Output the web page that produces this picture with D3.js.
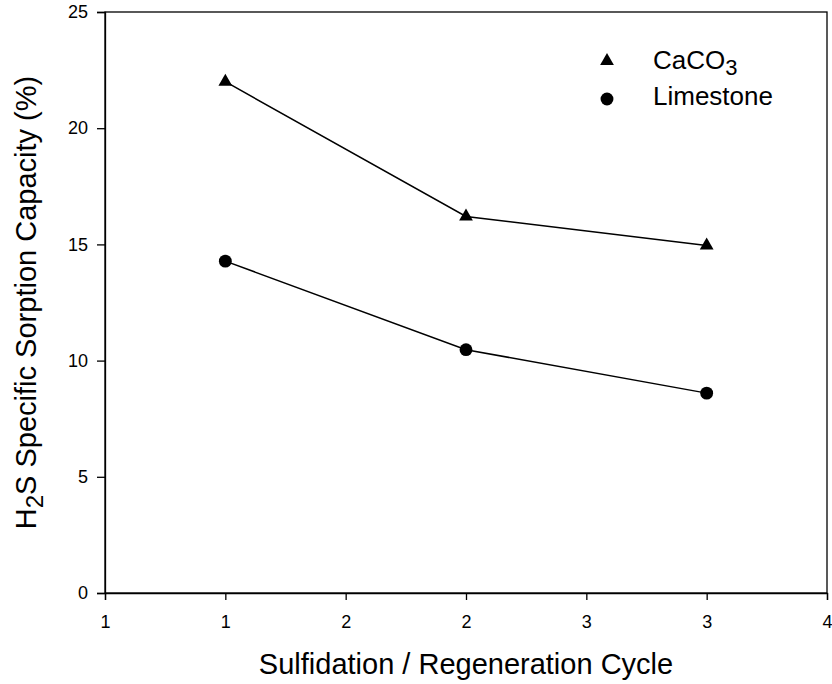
<!DOCTYPE html>
<html>
<head>
<meta charset="utf-8">
<script src="https://cdn.jsdelivr.net/npm/d3@7"></script>
<style>
  body { margin: 0; background: #fff; }
  svg { display: block; font-family: "Liberation Sans", Arial, sans-serif; }
</style>
</head>
<body>
<div id="chart"></div>
<script>
// cycle numbers and measured capacities (%)
const cycles = [1, 2, 3];
const caco3 = [22.0, 16.2, 14.95];
const limestone = [14.28, 10.47, 8.6];

// x ticks sit every half cycle, labels rounded like the original plot
const xTicks = [0.5, 1, 1.5, 2, 2.5, 3, 3.5];
const xTickLabels = ["1", "1", "2", "2", "3", "3", "4"];
const yTicks = [0, 5, 10, 15, 20, 25];

const width = 832, height = 684;
const margin = {top: 12, right: 5, bottom: 91, left: 105};

const svg = d3.select("#chart").append("svg")
    .attr("width", width)
    .attr("height", height);

const x = d3.scaleLinear().domain([0.5, 3.5]).range([margin.left, width - margin.right]);
const y = d3.scaleLinear().domain([0, 25]).range([height - margin.bottom, margin.top]);

// frame
svg.append("rect")
    .attr("x", x(0.5)).attr("y", y(25))
    .attr("width", x(3.5) - x(0.5)).attr("height", y(0) - y(25))
    .attr("fill", "none").attr("stroke", "#000").attr("stroke-width", 1.3);

// axes
const xAxis = svg.append("g")
    .attr("transform", `translate(0,${y(0)})`)
    .call(d3.axisBottom(x).tickValues(xTicks)
        .tickFormat((d, i) => xTickLabels[i])
        .tickSize(7).tickPadding(15));

const yAxis = svg.append("g")
    .attr("transform", `translate(${x(0.5)},0)`)
    .call(d3.axisLeft(y).tickValues(yTicks).tickSize(8).tickPadding(9));

[xAxis, yAxis].forEach(g => {
    g.select(".domain").attr("stroke-width", 1.3);
    g.selectAll(".tick line").attr("stroke-width", 1.3);
    g.selectAll(".tick text")
        .attr("font-family", "Liberation Sans, Arial, sans-serif")
        .attr("font-size", 18)
        .attr("fill", "#000");
});

// series
const line = d3.line().x(d => x(d[0])).y(d => y(d[1]));
const series = [
    {name: "CaCO3", values: caco3, shape: d3.symbolTriangle, size: 82},
    {name: "Limestone", values: limestone, shape: d3.symbolCircle, size: 130}
];

series.forEach(s => {
    const pts = cycles.map((c, i) => [c, s.values[i]]);
    svg.append("path")
        .datum(pts)
        .attr("d", line)
        .attr("fill", "none")
        .attr("stroke", "#000")
        .attr("stroke-width", 1.5);
    svg.append("g").selectAll("path")
        .data(pts)
        .join("path")
        .attr("transform", d => `translate(${x(d[0])},${y(d[1])})`)
        .attr("d", d3.symbol(s.shape, s.size))
        .attr("fill", "#000");
});

// legend
const legend = svg.append("g").attr("transform", "translate(607,61)");
legend.append("path").attr("d", d3.symbol(d3.symbolTriangle, 82)).attr("fill", "#000");
legend.append("path").attr("transform", "translate(0,38)")
    .attr("d", d3.symbol(d3.symbolCircle, 130)).attr("fill", "#000");

const t1 = legend.append("text").attr("x", 46).attr("y", 8).attr("font-size", 26);
t1.append("tspan").text("CaCO");
t1.append("tspan").attr("dy", 6).attr("font-size", 22).text("3");
legend.append("text").attr("x", 46).attr("y", 44).attr("font-size", 26).text("Limestone");

// axis titles
svg.append("text")
    .attr("x", (x(0.5) + x(3.5)) / 2)
    .attr("y", 674)
    .attr("text-anchor", "middle")
    .attr("font-size", 29)
    .text("Sulfidation / Regeneration Cycle");

const yt = svg.append("text")
    .attr("transform", `translate(36,${(y(0) + y(25)) / 2}) rotate(-90)`)
    .attr("text-anchor", "middle")
    .attr("font-size", 29);
yt.append("tspan").text("H");
yt.append("tspan").attr("dy", 7).attr("font-size", 24).text("2");
yt.append("tspan").attr("dy", -7).text("S Specific Sorption Capacity (%)");
</script>
</body>
</html>
